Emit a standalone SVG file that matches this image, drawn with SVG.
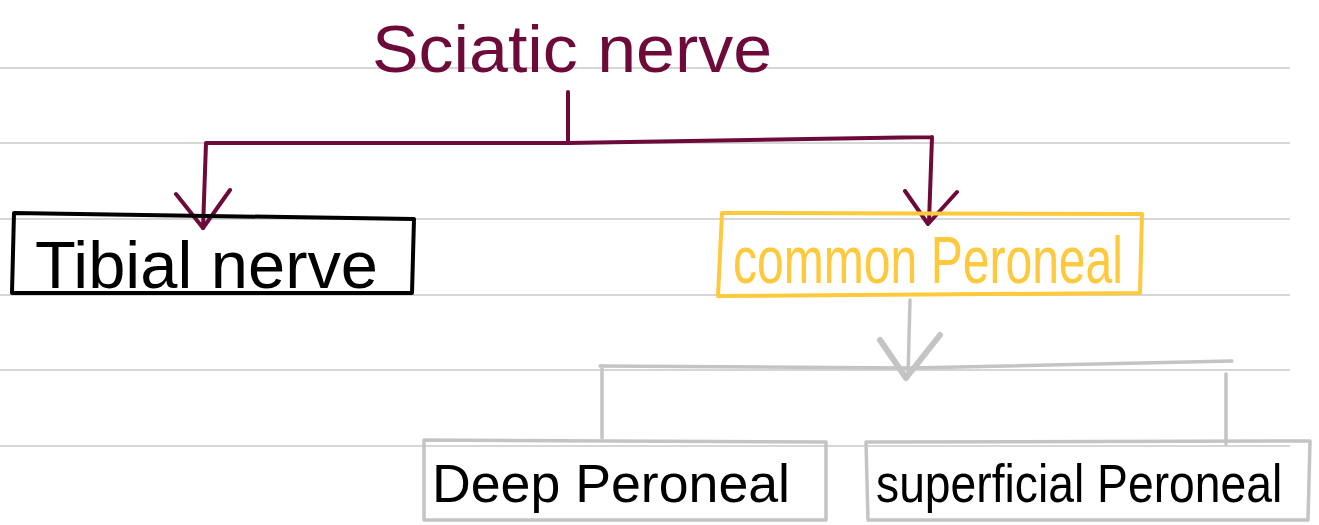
<svg xmlns="http://www.w3.org/2000/svg" width="1319" height="525" viewBox="0 0 1319 525">
<style>
.rule{stroke:#c8c8c8;stroke-width:1.5}
.t{font-family:"Liberation Sans","DejaVu Sans",sans-serif;font-size:66px}
.s{font-size:54px}
.m{stroke:#6d0a3a;stroke-width:4;fill:none;stroke-linecap:round;stroke-linejoin:round}
.g{stroke:#c4c4c4;stroke-width:3.5;fill:none;stroke-linecap:round;stroke-linejoin:round}
</style>
<rect width="1319" height="525" fill="#ffffff"/>
<g id="rules">
<line class="rule" x1="0" y1="68" x2="1290" y2="68"/>
<line class="rule" x1="0" y1="143" x2="1290" y2="143"/>
<line class="rule" x1="0" y1="219" x2="1290" y2="219"/>
<line class="rule" x1="0" y1="295" x2="1290" y2="295"/>
<line class="rule" x1="0" y1="370" x2="1290" y2="370"/>
<line class="rule" x1="0" y1="446" x2="1290" y2="446"/>
</g>
<g id="connectors">
<path class="m" d="M568,92 V142 M206,143 L568,143 L932,137 M206,143 L203,228 M932,137 L929,222"/>
<path class="m" d="M176,194 L203,228 L230,190 M905,191 L928,224 L957,192"/>
<path class="g" d="M910,300 L908,376 M600,366 L910,368 L1232,361 M602,366 V438 M1226,374 V444"/>
<path class="g" style="stroke-width:6" d="M880,340 L906,378 L940,335"/>
</g>
<g id="sciatic">
<text class="t" x="372" y="72" fill="#6d0a3a" textLength="400" lengthAdjust="spacingAndGlyphs">Sciatic nerve</text>
</g>
<g id="tibial">
<path d="M14,213 L414,219 L412,293 L12,293 Z" fill="none" stroke="#000" stroke-width="4" stroke-linejoin="round"/>
<text class="t" x="35" y="288" fill="#000" textLength="343" lengthAdjust="spacingAndGlyphs">Tibial nerve</text>
</g>
<g id="common">
<path d="M722,213 L1142,214 L1140,293 L718,296 Z" fill="none" stroke="#fec93c" stroke-width="4" stroke-linejoin="round"/>
<text class="t" x="733" y="283" fill="#fec93c" textLength="390" lengthAdjust="spacingAndGlyphs">common Peroneal</text>
</g>
<g id="deep">
<path d="M424,440 L826,442 L826,520 L424,520 Z" fill="none" stroke="#c4c4c4" stroke-width="3.5" stroke-linejoin="round"/>
<text class="t s" x="432" y="502" fill="#000" textLength="358" lengthAdjust="spacingAndGlyphs">Deep Peroneal</text>
</g>
<g id="superficial">
<path d="M866,442 L1310,441 L1308,520 L868,520 Z" fill="none" stroke="#c4c4c4" stroke-width="3.5" stroke-linejoin="round"/>
<text class="t s" transform="translate(876,502) scale(0.857,1)" x="0" y="0" fill="#000">superficial Peroneal</text>
</g>
</svg>
